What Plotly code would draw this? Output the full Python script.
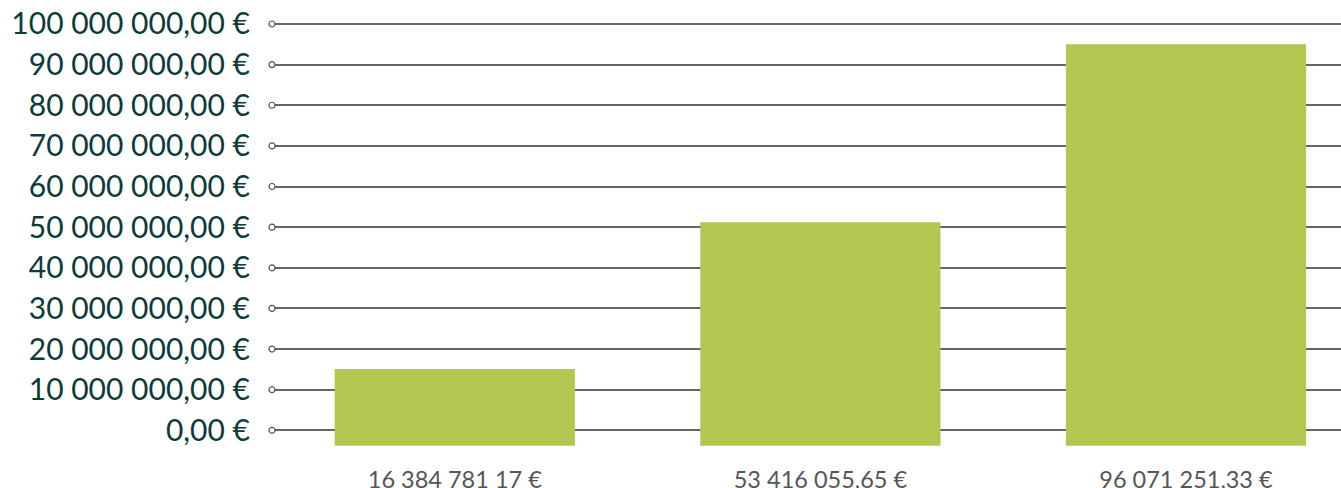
import plotly.graph_objects as go

# Data
categories = ["16 384 781 17 €", "53 416 055,65 €", "96 071 251,33 €"]
bar_tops = [15.1e6, 51.2e6, 95.0e6]          # bar top positions
bar_base = -3.8e6                             # bars start slightly below the zero line
y_tick_values = [i * 10e6 for i in range(11)]
y_tick_labels = ["0,00 €", "10 000 000,00 €", "20 000 000,00 €", "30 000 000,00 €",
                 "40 000 000,00 €", "50 000 000,00 €", "60 000 000,00 €",
                 "70 000 000,00 €", "80 000 000,00 €", "90 000 000,00 €",
                 "100 000 000,00 €"]

x_pos = list(range(len(categories)))

fig = go.Figure()
fig.add_trace(go.Bar(
    x=x_pos,
    y=[t - bar_base for t in bar_tops],
    base=[bar_base] * len(bar_tops),
    width=0.657,
    marker=dict(color="#b2c652", line=dict(width=0)),
    hoverinfo="skip",
))
# small open circles at the left end of each gridline
fig.add_trace(go.Scatter(
    x=[-0.5] * len(y_tick_values),
    y=y_tick_values,
    mode="markers",
    marker=dict(symbol="circle", size=6, color="white",
                line=dict(color="#555555", width=1.2)),
    cliponaxis=False,
    hoverinfo="skip",
))

fig.update_layout(
    width=1341, height=488,
    margin=dict(l=272, r=0, t=20, b=42),
    paper_bgcolor="white", plot_bgcolor="white",
    showlegend=False,
    font=dict(family="Lato, sans-serif"),
    xaxis=dict(
        range=[-0.5, 2.424],
        tickvals=x_pos, ticktext=categories,
        showgrid=False, zeroline=False, showline=False, ticks="",
        tickfont=dict(size=23.5, color="#555555"),
        ticklabelstandoff=17, automargin=False,
    ),
    yaxis=dict(
        range=[-3.86e6, 100.98e6],
        tickvals=y_tick_values, ticktext=y_tick_labels,
        showgrid=True, gridcolor="#666666", gridwidth=1.5,
        zeroline=False, showline=False, ticks="",
        tickfont=dict(size=30, color="#0d3b3a"),
        ticklabelstandoff=21, automargin=False,
    ),
)

fig.write_html("out.html", config={"displayModeBar": False},
               post_script="document.body.style.margin='0';")
